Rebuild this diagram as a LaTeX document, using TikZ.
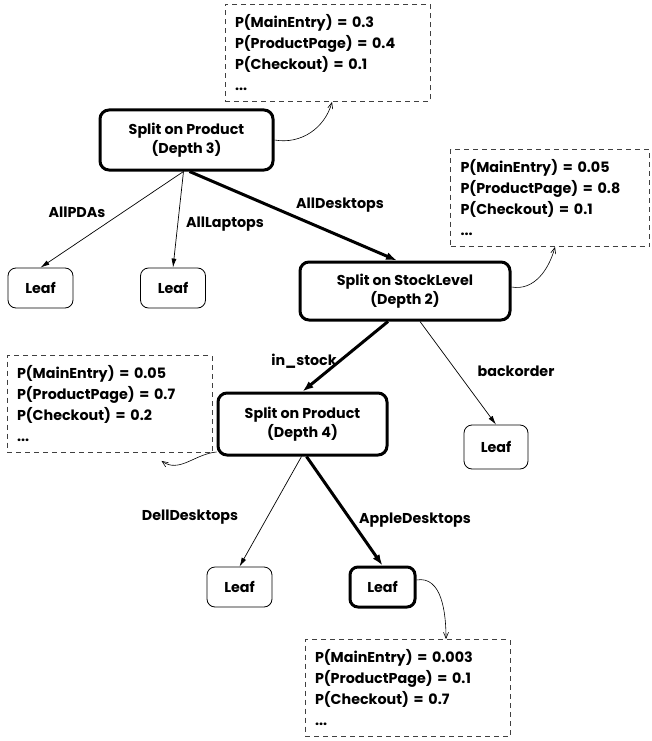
\documentclass[tikz,border=0pt]{standalone}
\usepackage{fontspec}
\setmainfont{Poppins}
\usetikzlibrary{arrows.meta}
\begin{document}
\begin{tikzpicture}[x=1pt,y=-1pt,
  every node/.style={font=\fontsize{14.3}{18.5}\selectfont\bfseries},
  splitbox/.style={draw, line width=3pt, rounded corners=9pt, align=center, inner sep=0pt},
  leafbox/.style={draw, line width=0.8pt, rounded corners=8pt, minimum width=65pt, minimum height=40pt, inner sep=0pt},
  leafbold/.style={leafbox, line width=3pt},
  infobox/.style={draw=black!75, line width=0.8pt, dash pattern=on 5pt off 4pt,
    align=left, inner xsep=10pt, inner ysep=0pt, minimum height=97pt, text width=185pt,
    font=\fontsize{14.3}{21}\selectfont\bfseries},
  thinedge/.style={line width=0.7pt, -{Latex[length=9pt,width=5pt]}},
  thickedge/.style={line width=3pt, -{Latex[length=11pt,width=8pt]}},
  noteedge/.style={line width=0.6pt, -{Straight Barb[length=6pt,width=5pt]}},
  edgelabel/.style={inner sep=0pt}
]
\useasboundingbox (0,0) rectangle (652,741);

% tree nodes
\node[splitbox, minimum width=173pt, minimum height=60pt] (split3) at (186.5,140) {Split on Product\\(Depth 3)};
\node[leafbox] (leafpda) at (40.5,288) {Leaf};
\node[leafbox] (leaflap) at (173,288) {Leaf};
\node[splitbox, minimum width=210pt, minimum height=58pt] (stock) at (405,291) {Split on StockLevel\\(Depth 2)};
\node[leafbox, minimum height=44pt, minimum width=64pt] (leafback) at (496,447) {Leaf};
\node[splitbox, minimum width=169pt, minimum height=62pt] (split4) at (302.5,424) {Split on Product\\(Depth 4)};
\node[leafbox] (leafdell) at (239.5,587) {Leaf};
\node[leafbold] (leafapple) at (382.5,587) {Leaf};

% probability notes
\node[infobox] (note3) at (327.5,53)
  {P(MainEntry) = 0.3\\P(ProductPage) = 0.4\\P(Checkout) = 0.1\\...};
\node[infobox, text width=179pt] (note2) at (550,198)
  {P(MainEntry) = 0.05\\P(ProductPage) = 0.8\\P(Checkout) = 0.1\\...};
\node[infobox] (note4) at (109.5,404)
  {P(MainEntry) = 0.05\\P(ProductPage) = 0.7\\P(Checkout) = 0.2\\...};
\node[infobox] (note5) at (407.5,688)
  {P(MainEntry) = 0.003\\P(ProductPage) = 0.1\\P(Checkout) = 0.7\\...};

% branches
\draw[thinedge] ([xshift=-3pt]split3.south) -- (leafpda.north);
\draw[thinedge] ([xshift=-3pt]split3.south) -- (leaflap.north);
\draw[thickedge] ([xshift=3pt]split3.south) -- ([xshift=-8pt]stock.north);
\draw[thickedge] ([xshift=-17pt]stock.south) -- (split4.north);
\draw[thinedge] ([xshift=15pt]stock.south) -- (leafback.north);
\draw[thinedge] ([xshift=-1pt]split4.south) -- (leafdell.north);
\draw[thickedge] ([xshift=4pt]split4.south) -- (leafapple.north);

% branch labels
\node[edgelabel] (lpda) at (77,212) {AllPDAs};
\node[edgelabel] (llap) at (225,224) {AllLaptops};
\node[edgelabel] (ldesk) at (340,205) {AllDesktops};
\node[edgelabel] (lstock) at (304,361) {in\_stock};
\node[edgelabel] (lback) at (516,371) {backorder};
\node[edgelabel] (ldell) at (190,517) {DellDesktops};
\node[edgelabel] (lapple) at (415,520) {AppleDesktops};

% links to the notes
\draw[noteedge] (split3.east) to[out=-10,in=-105] ([xshift=4.5pt]note3.south);
\draw[noteedge] ([yshift=4pt]stock.east) to[out=-10,in=-105] ([xshift=5pt]note2.south);
\draw[noteedge] ([yshift=-28pt]split4.west) to[out=185,in=-35] ([xshift=52pt,yshift=-8pt]note4.south);
\draw[noteedge] ([yshift=7pt]leafapple.east) to[out=10,in=90] ([xshift=38.5pt]note5.north);
\end{tikzpicture}
\end{document}
